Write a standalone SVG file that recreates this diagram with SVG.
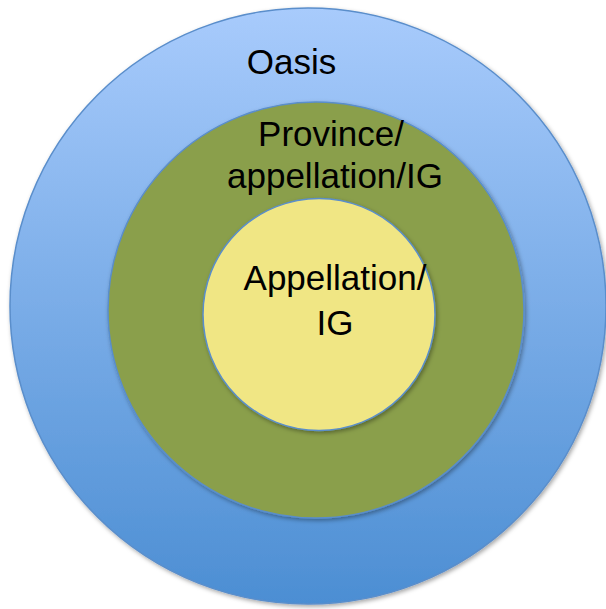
<svg xmlns="http://www.w3.org/2000/svg" width="606" height="609" viewBox="0 0 606 609">
  <defs>
    <linearGradient id="blueGrad" x1="0" y1="0" x2="0" y2="1">
      <stop offset="0" stop-color="#a8cbfc"/>
      <stop offset="1" stop-color="#4c8ed3"/>
    </linearGradient>
    <filter id="shadow" x="-10%" y="-10%" width="120%" height="120%">
      <feDropShadow dx="1.5" dy="2" stdDeviation="2" flood-color="#000" flood-opacity="0.35"/>
    </filter>
  </defs>
  <style>
    .ring { stroke: #5a8ecb; stroke-width: 1.5; filter: url(#shadow); }
    .label { font-family: "Liberation Sans", Arial, sans-serif; font-size: 35px; fill: #000; text-anchor: middle; }
  </style>
  <rect width="606" height="609" fill="#ffffff"/>
  <g id="oasis">
    <circle class="ring" cx="308" cy="306" r="298" fill="url(#blueGrad)"/>
    <text class="label" x="291.5" y="74">Oasis</text>
  </g>
  <g id="province">
    <circle class="ring" cx="316" cy="310" r="208" fill="#8a9f4b"/>
    <text class="label" x="331" y="146">Province/</text>
    <text class="label" x="335" y="188">appellation/IG</text>
  </g>
  <g id="appellation">
    <circle class="ring" cx="319" cy="314.5" r="116" fill="#f0e684"/>
    <text class="label" x="335" y="290">Appellation/</text>
    <text class="label" x="335" y="335">IG</text>
  </g>
  <g id="connectors"></g>
</svg>
